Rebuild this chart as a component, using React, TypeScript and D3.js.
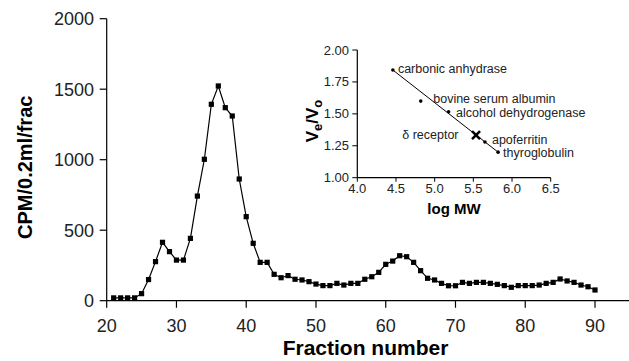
import * as d3 from "d3";

// elution profile, fraction number vs counts
const fractions = [
  21, 22, 23, 24, 25, 26, 27, 28, 29, 30, 31, 32, 33, 34, 35, 36, 37, 38, 39, 40,
  41, 42, 43, 44, 45, 46, 47, 48, 49, 50, 51, 52, 53, 54, 55, 56, 57, 58, 59, 60,
  61, 62, 63, 64, 65, 66, 67, 68, 69, 70, 71, 72, 73, 74, 75, 76, 77, 78, 79, 80,
  81, 82, 83, 84, 85, 86, 87, 88, 89, 90,
];
const cpm = [
  20, 20, 20, 20, 50, 150, 277, 414, 348, 288, 288, 442, 742, 1003, 1393, 1523, 1369, 1310, 863, 596,
  407, 272, 272, 187, 163, 178, 152, 147, 135, 118, 107, 107, 123, 111, 123, 123, 152, 170, 201, 258,
  281, 319, 312, 272, 213, 159, 147, 123, 106, 106, 130, 123, 130, 130, 123, 116, 107, 95, 107, 107,
  107, 111, 123, 130, 154, 140, 130, 111, 99, 76,
];
const xTicks = [20, 30, 40, 50, 60, 70, 80, 90];
const yTicks = [0, 500, 1000, 1500, 2000];

// inset: calibration standards
const standards = [
  "carbonic anhydrase",
  "bovine serum albumin",
  "alcohol dehydrogenase",
  "apoferritin",
  "thyroglobulin",
];
const standardLogMW = [4.46, 4.82, 5.18, 5.65, 5.82];
const standardVeVo = [1.843, 1.6, 1.517, 1.28, 1.2];
const receptorLogMW = 5.535;
const receptorVeVo = 1.334;
const insetXTicks = [4.0, 4.5, 5.0, 5.5, 6.0, 6.5];
const insetYTicks = [1.0, 1.25, 1.5, 1.75, 2.0];

// label placement next to each point (dx, dy, anchor)
const labelPlace: Record<string, [number, number, string]> = {
  "carbonic anhydrase": [5, -1.5, "start"],
  "bovine serum albumin": [12.5, -2.5, "start"],
  "alcohol dehydrogenase": [7.5, 0.8, "start"],
  apoferritin: [7, -2.5, "start"],
  thyroglobulin: [5, 0.5, "start"],
};

const W = 629;
const H = 361;
const font = "Arial, 'Liberation Sans', Helvetica, sans-serif";

export default function App() {
  const x = d3.scaleLinear().domain([20, 90]).range([106.7, 595]);
  const y = d3.scaleLinear().domain([0, 2000]).range([300.7, 18.7]);

  const ix = d3.scaleLinear().domain([4.0, 6.5]).range([357.3, 550.7]);
  const iy = d3.scaleLinear().domain([1.0, 2.0]).range([177.7, 50]);

  const line = d3
    .line<number>()
    .x((_, i) => x(fractions[i]))
    .y((d) => y(d));

  const last = standards.length - 1;
  const fitLine = d3
    .line<number>()
    .x((d) => ix(standardLogMW[d]))
    .y((d) => iy(standardVeVo[d]));

  const rx = ix(receptorLogMW);
  const ry = iy(receptorVeVo);

  return (
    <svg
      width={W}
      height={H}
      style={{ position: "absolute", left: 0, top: 0, background: "#fff" }}
      fontFamily={font}
    >
      {/* main axes */}
      <line x1={x(20)} x2={W} y1={y(0)} y2={y(0)} stroke="#000" strokeWidth={1.2} />
      <line x1={x(20)} x2={x(20)} y1={y(0)} y2={y(2000)} stroke="#000" strokeWidth={1.2} />
      {xTicks.map((t) => (
        <g key={t}>
          <line x1={x(t)} x2={x(t)} y1={y(0)} y2={y(0) + 7} stroke="#000" strokeWidth={1.2} />
          <text x={x(t)} y={331.5} fontSize={18} textAnchor="middle" fill="#222">
            {t}
          </text>
        </g>
      ))}
      {yTicks.map((t) => (
        <g key={t}>
          <line x1={x(20) - 7} x2={x(20)} y1={y(t)} y2={y(t)} stroke="#000" strokeWidth={1.2} />
          <text x={94} y={y(t) + 6.5} fontSize={18} textAnchor="end" fill="#222">
            {t}
          </text>
        </g>
      ))}
      <text x={365.5} y={355} fontSize={21} fontWeight="bold" textAnchor="middle">
        Fraction number
      </text>
      <text
        transform={`translate(32,167.3) rotate(-90)`}
        fontSize={20}
        fontWeight="bold"
        textAnchor="middle"
      >
        CPM/0.2ml/frac
      </text>

      {/* profile */}
      <path d={line(cpm) ?? ""} fill="none" stroke="#000" strokeWidth={1.2} />
      {cpm.map((v, i) => (
        <rect
          key={i}
          x={x(fractions[i]) - 2.6}
          y={y(v) - 2.6}
          width={5.2}
          height={5.2}
          fill="#000"
        />
      ))}

      {/* inset */}
      <line x1={ix(4)} x2={ix(6.5)} y1={iy(1)} y2={iy(1)} stroke="#000" strokeWidth={1.2} />
      <line x1={ix(4)} x2={ix(4)} y1={iy(1)} y2={iy(2)} stroke="#000" strokeWidth={1.2} />
      {insetXTicks.map((t) => (
        <g key={t}>
          <line x1={ix(t)} x2={ix(t)} y1={iy(1)} y2={iy(1) + 4} stroke="#000" />
          <text x={ix(t)} y={193.3} fontSize={13} textAnchor="middle" fill="#222">
            {t.toFixed(1)}
          </text>
        </g>
      ))}
      {insetYTicks.map((t) => (
        <g key={t}>
          <line x1={ix(4) - 5} x2={ix(4)} y1={iy(t)} y2={iy(t)} stroke="#000" />
          <text x={349} y={iy(t) + 4.5} fontSize={13} textAnchor="end" fill="#222">
            {t.toFixed(2)}
          </text>
        </g>
      ))}
      <text x={ix(5.25)} y={213.5} fontSize={15} fontWeight="bold" textAnchor="middle">
        log MW
      </text>
      <text
        transform={`translate(318,121) rotate(-90)`}
        fontSize={17}
        fontWeight="bold"
        textAnchor="middle"
      >
        V<tspan fontSize={13} dy={4}>e</tspan>
        <tspan dy={-4}>/V</tspan>
        <tspan fontSize={13} dy={4}>o</tspan>
      </text>

      <path d={fitLine([0, last]) ?? ""} fill="none" stroke="#000" strokeWidth={1} />
      {standards.map((name, i) => {
        const px = ix(standardLogMW[i]);
        const py = iy(standardVeVo[i]);
        const [dx, dy, anchor] = labelPlace[name];
        return (
          <g key={name}>
            <circle cx={px} cy={py} r={1.8} fill="#000" />
            <text
              x={px + dx}
              y={py + dy + 4.3}
              fontSize={12.5}
              textAnchor={anchor as any}
              fill="#222"
            >
              {name}
            </text>
          </g>
        );
      })}
      <g stroke="#000" strokeWidth={2.6}>
        <line x1={rx - 4} x2={rx + 4} y1={ry - 4} y2={ry + 4} />
        <line x1={rx - 4} x2={rx + 4} y1={ry + 4} y2={ry - 4} />
      </g>
      <text x={rx - 17.5} y={ry + 4.3} fontSize={12.5} textAnchor="end" fill="#222">
        δ receptor
      </text>
    </svg>
  );
}
